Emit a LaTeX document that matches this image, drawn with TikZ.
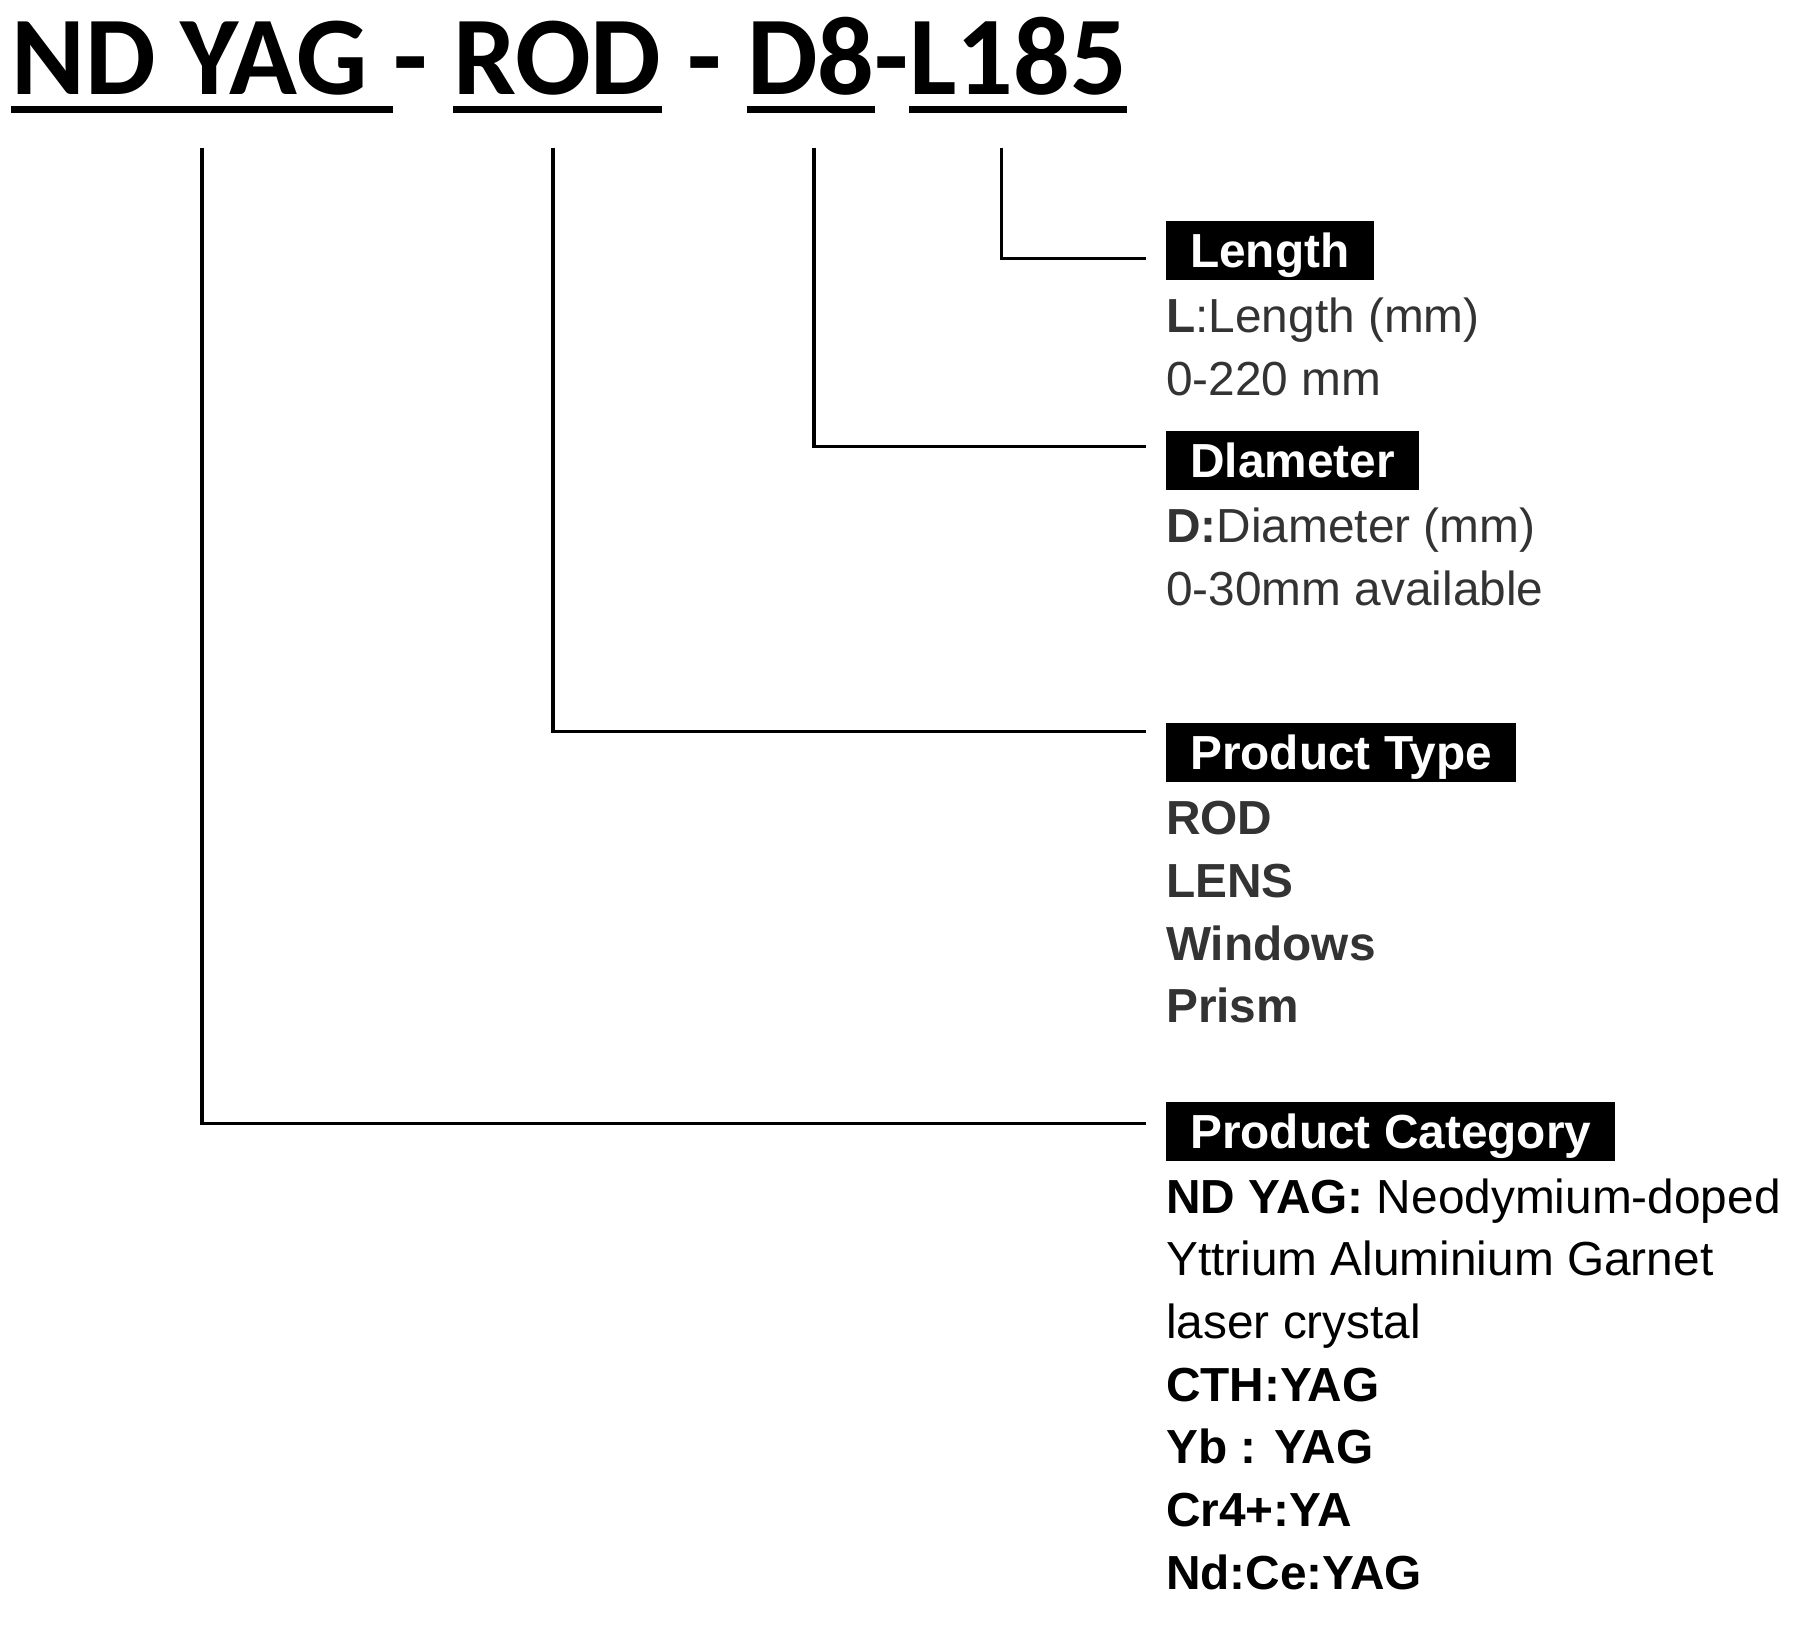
\documentclass[tikz,border=0pt]{standalone}
\usepackage{fontspec}
\setmainfont{Liberation Sans}
\newfontfamily\titlefont{Carlito}
\usetikzlibrary{positioning}
\definecolor{ink}{HTML}{333333}

\begin{document}
\begin{tikzpicture}[
  x=1pt,y=-1pt,
  part/.style={inner sep=0pt,font=\titlefont\bfseries\fontsize{112}{120}\selectfont},
  uline/.style={line width=7pt},
  leader/.style={line width=3.5pt},
  header/.style={fill=black,text=white,anchor=west,inner xsep=24pt,inner ysep=0pt,
    minimum height=59pt,text height=34pt,text depth=0pt,font=\bfseries\fontsize{47.8}{56}\selectfont},
  entry/.style={anchor=north west,inner sep=0pt,text height=44pt,text depth=18.3pt,
    text=ink,font=\fontsize{47.8}{56}\selectfont}
]
  \useasboundingbox (0,0) rectangle (1809,1639);

  % code line
  \node[part,anchor=base west] (tcat) at (11,94.6) {ND YAG\ \null};
  \node[part,base right=0pt of tcat] (tsep1) {-\ \null};
  \node[part,base right=0pt of tsep1] (ttype) {ROD};
  \node[part,base right=0pt of ttype] (tsep2) {\null\ -\ \null};
  \node[part,base right=0pt of tsep2] (tdia) {D8};
  \node[part,base right=0pt of tdia] (tsep3) {-};
  \node[part,base right=0pt of tsep3] (tlen) {L185};
  \foreach \p in {tcat,ttype,tdia,tlen}
    \draw[uline] ([yshift=-15pt]\p.base west) -- ([yshift=-15pt]\p.base east);

  % headers
  \node[header] (hlen) at (1166,250.9) {Length};
  \node[header] (hdia) at (1166,460.9) {Dlameter};
  \node[header] (htype) at (1166,752.8) {Product Type};
  \node[header] (hcat) at (1166,1131.2) {Product Category};

  % entries
  \node[entry] (len1) at ([yshift=-8pt]hlen.south west) {\textbf{L}:Length (mm)};
  \node[entry] (len2) at (len1.south west) {0-220 mm};
  \node[entry] (dia1) at ([yshift=-8pt]hdia.south west) {\textbf{D:}Diameter (mm)};
  \node[entry] (dia2) at (dia1.south west) {0-30mm available};
  \node[entry] (type1) at ([yshift=-8pt]htype.south west) {\textbf{ROD}};
  \node[entry] (type2) at (type1.south west) {\textbf{LENS}};
  \node[entry] (type3) at (type2.south west) {\textbf{Windows}};
  \node[entry] (type4) at (type3.south west) {\textbf{Prism}};
  \node[entry,text=black] (cat1) at ([yshift=-8pt]hcat.south west) {\textbf{ND YAG:} Neodymium-doped};
  \node[entry,text=black] (cat2) at (cat1.south west) {Yttrium Aluminium Garnet};
  \node[entry,text=black] (cat3) at (cat2.south west) {laser crystal};
  \node[entry,text=black] (cat4) at (cat3.south west) {\textbf{CTH:YAG}};
  \node[entry,text=black] (cat5) at (cat4.south west) {\textbf{Yb : YAG}};
  \node[entry,text=black] (cat6) at (cat5.south west) {\textbf{Cr4+:YA}};
  \node[entry,text=black] (cat7) at (cat6.south west) {\textbf{Nd:Ce:YAG}};

  % leaders
  \coordinate (tapcat) at ([yshift=-53pt]tcat.base);
  \coordinate (taptype) at ([xshift=-4.5pt,yshift=-53pt]ttype.base);
  \coordinate (tapdia) at ([xshift=3pt,yshift=-53pt]tdia.base);
  \coordinate (taplen) at ([xshift=-17pt,yshift=-53pt]tlen.base);
  \draw[leader] (taplen) |- ([xshift=-20.4pt,yshift=-7.5pt]hlen.west);
  \draw[leader] (tapdia) |- ([xshift=-20.4pt,yshift=14.4pt]hdia.west);
  \draw[leader] (taptype) |- ([xshift=-20.4pt,yshift=21.4pt]htype.west);
  \draw[leader] (tapcat) |- ([xshift=-20.4pt,yshift=7.5pt]hcat.west);
\end{tikzpicture}
\end{document}
